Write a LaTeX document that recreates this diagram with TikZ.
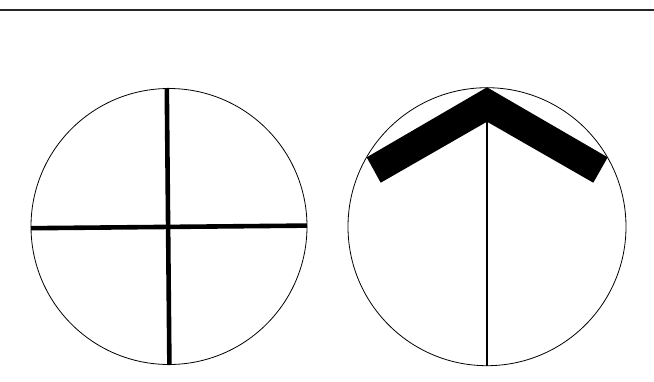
\documentclass[tikz,border=0pt]{standalone}
\begin{document}
\begin{tikzpicture}[x=1pt,y=-1pt,
  ring/.style={draw=black,line width=0.8pt},
  bar/.style={draw=black,line width=4.6pt},
  rod/.style={draw=black,line width=2.3pt}]
\useasboundingbox (0,0) rectangle (654,381);
\draw[line width=1.6pt,black!85] (0,10) -- (654,10);
% left disc
\draw[ring] (169,226.5) circle (138);
\draw[bar] (166.8,88) -- (169.4,365);
\draw[bar] (31,228.2) -- (307,225.6);
% right disc
\draw[ring] (487,226.7) circle (139);
\draw[rod] (487,121) -- (487,366);
\fill[black] (487,87.3) -- (607.7,157.3) -- (593.3,182.7) -- (487,121.7)
  -- (380.7,182.7) -- (366.7,157.3) -- cycle;
\end{tikzpicture}
\end{document}
